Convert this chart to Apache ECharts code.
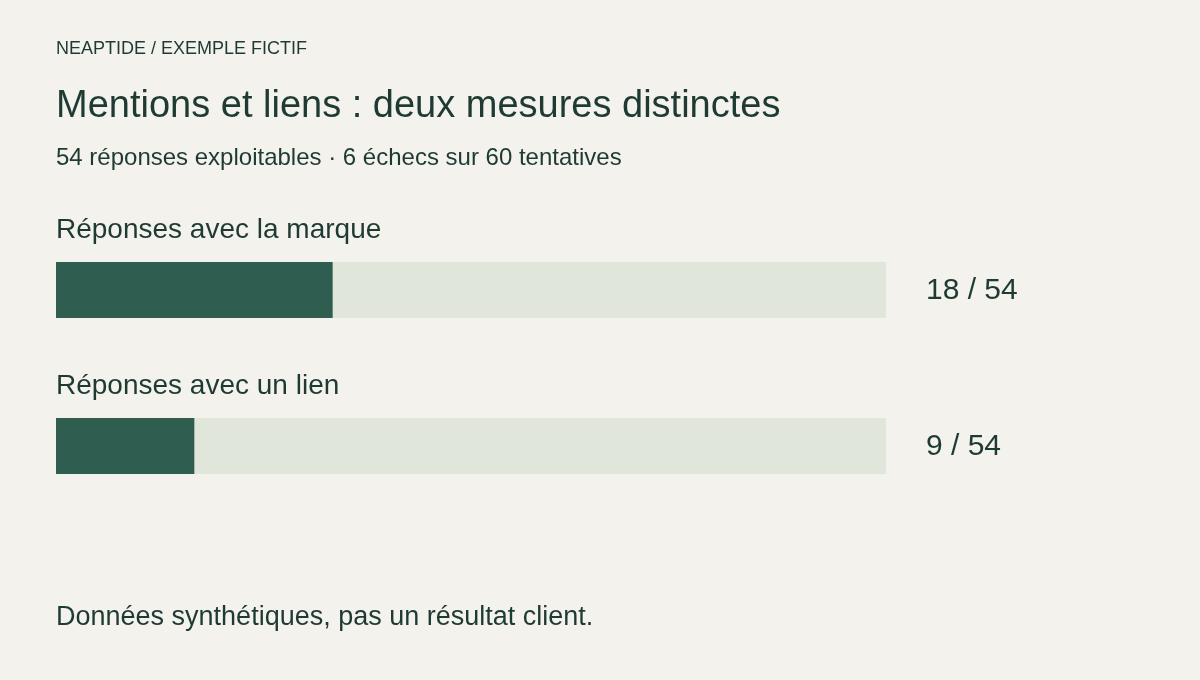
<!DOCTYPE html>
<html>
<head>
<meta charset="utf-8">
<script src="https://cdn.jsdelivr.net/npm/echarts@6/dist/echarts.min.js"></script>
<style>
html,body{margin:0;padding:0;background:#f3f2ed;}
#c{width:1200px;height:680px;}
</style>
</head>
<body>
<div id="c"></div>
<script>
const categories = ['Réponses avec la marque', 'Réponses avec un lien'];
const values = [18, 9];
const total = 54;
const kicker = 'NEAPTIDE / EXEMPLE FICTIF';
const titleText = 'Mentions et liens : deux mesures distinctes';
const subtitleText = '54 réponses exploitables · 6 échecs sur 60 tentatives';
const footerText = 'Données synthétiques, pas un résultat client.';

const FONT = '"Liberation Sans", Arial, sans-serif';
const TEXT = '#1f3a33';
const chart = echarts.init(document.getElementById('c'));
function txt(t, size, y) {
  return { type: 'text', x: 56, y: y, style: { text: t, font: size + 'px ' + FONT, fill: TEXT, verticalAlign: 'middle', align: 'left' } };
}
chart.setOption({
  backgroundColor: '#f3f2ed',
  animation: false,
  textStyle: { fontFamily: FONT },
  graphic: [
    txt(kicker, 18, 49),
    txt(titleText, 38, 107),
    txt(subtitleText, 24, 158),
    txt(footerText, 27, 618)
  ],
  grid: { left: 56, top: 212, width: 830, height: 312 },
  xAxis: { type: 'value', min: 0, max: total, show: false },
  yAxis: { type: 'category', data: categories, inverse: true, show: false },
  series: [
    {
      type: 'bar', barWidth: 56, barGap: '-100%', silent: true,
      data: categories.map(() => total),
      itemStyle: { color: '#e0e6d9' },
      label: {
        show: true, position: 'right', distance: 40, offset: [0, 1],
        formatter: (p) => values[p.dataIndex] + ' / ' + total,
        fontSize: 30, color: TEXT, fontFamily: FONT
      }
    },
    {
      type: 'bar', barWidth: 56, barGap: '-100%', silent: true,
      data: values,
      itemStyle: { color: '#2f5d4f' },
      label: {
        show: true, position: [0, -32], verticalAlign: 'middle', align: 'left',
        formatter: (p) => categories[p.dataIndex],
        fontSize: 28, color: TEXT, fontFamily: FONT
      }
    }
  ]
});
</script>
</body>
</html>
